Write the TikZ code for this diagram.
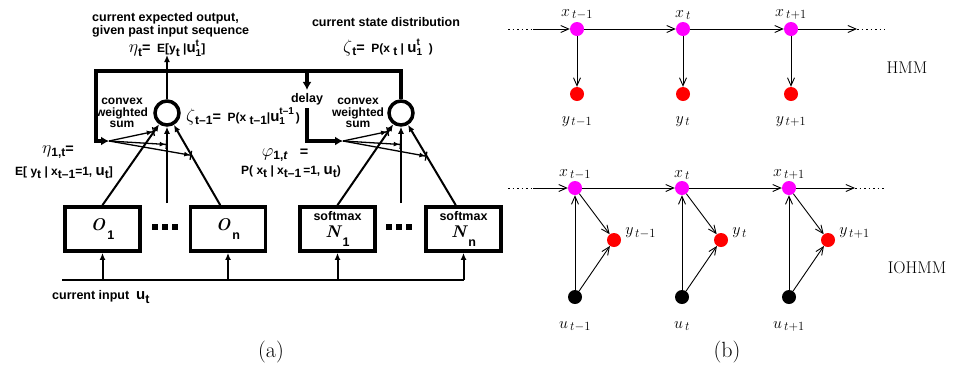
\RequirePackage{fix-cm}
\documentclass[tikz,border=0pt]{standalone}
\usepackage{amsmath}
\usepackage{fontspec}
\setsansfont{Liberation Sans}
\usepackage{tikz}
\usetikzlibrary{arrows.meta,calc,positioning}
\DeclareMathSizes{16}{16}{12.5}{10}
\definecolor{hmmmag}{RGB}{255,0,255}

\newcommand{\gk}[1]{{\fontsize{18}{18}\selectfont$#1$}}
\newcommand{\gu}{{\fontsize{15}{15}\selectfont u}}
\newcommand{\lo}[1]{\raisebox{-.5ex}{#1}}
\newcommand{\ud}[2]{\raisebox{-3pt}{\fontsize{10}{10}\selectfont\shortstack[l]{#1\\#2}}}
\newcommand{\idx}[2]{{\rmfamily\bfseries\itshape\fontsize{17}{17}\selectfont #1}\,\raisebox{-9pt}{#2}}
\newcommand{\dotrow}{\rule{6pt}{6pt}\hspace{4pt}\rule{6pt}{6pt}\hspace{4pt}\rule{6pt}{6pt}}

\begin{document}
\begin{tikzpicture}[x=1pt, y=-1pt, >={Latex[length=7pt,width=6pt]},
    box/.style={draw, line width=3.8pt, minimum width=75pt, minimum height=44pt, inner sep=0pt,
      font=\sffamily\bfseries\fontsize{12.5}{12.5}\selectfont, align=center},
    sumnode/.style={draw, circle, line width=3.5pt, minimum size=24pt, inner sep=0pt},
    fb/.style={line width=3.8pt, >={Latex[length=8pt,width=9pt]}},
    wire/.style={line width=2pt},
    gate/.style={line width=1.3pt, -{Latex[length=6pt,width=5pt] Bar[width=9pt,line width=1.3pt]}},
    lab/.style={font=\sffamily\bfseries\fontsize{12.5}{13.5}\selectfont, inner sep=0pt},
    sumlab/.style={font=\sffamily\bfseries\fontsize{12}{11.6}\selectfont, inner sep=0pt, align=center},
    eq/.style={font=\sffamily\bfseries\fontsize{12}{12}\selectfont, inner sep=0pt},
    st/.style={circle, fill=hmmmag, minimum size=14pt, inner sep=0pt},
    ob/.style={circle, fill=red, minimum size=14pt, inner sep=0pt},
    inp/.style={circle, fill=black, minimum size=14pt, inner sep=0pt},
    arr/.style={line width=0.9pt, -{Straight Barb[length=8pt,width=7pt]}},
    dotline/.style={line width=0.9pt, dash pattern=on 1.5pt off 3pt},
    mlab/.style={font=\fontsize{16}{18}\selectfont, inner sep=2pt},
    captxt/.style={font=\fontsize{22}{26}\selectfont}]
\useasboundingbox (0,0) rectangle (953,373);

% (a) mixture of experts
  \node[sumnode] (c1) at (167,113) {};
  \node[sumnode] (c2) at (401,113) {};
  \node[box] (O1) at (102.5,229) {\idx{O}{1}};
  \node (dO) at (165,227) {\dotrow};
  \node[box] (On) at (228,229) {\idx{O}{n}};
  \node[box] (N1) at (337.5,229) {softmax\\[4pt]\idx{N}{1}};
  \node (dN) at (399,227) {\dotrow};
  \node[box] (Nn) at (463.5,229) {softmax\\[4pt]\idx{N}{n}};

  \coordinate (tl) at (96,71);
  \coordinate (dtop) at (307,71);
  \coordinate (top1) at (167,55);
  \coordinate (m1) at (167,203);
  \coordinate (m2) at (401,203);
  \coordinate (f1) at (109,141);
  \coordinate (f2) at (343,141);
  \coordinate (inL) at (62,280);
  \coordinate (inR) at (463.5,280);

  \node[lab] (delay) at (307,99) {delay};

  % feedback loop
  \draw[fb,->] (c2.north) |- (tl) |- (f1);
  \draw[fb,->, shorten >=3pt] (dtop) -- (delay.north);
  \draw[fb,->, shorten <=3pt] (delay.south) |- (f2);

  \draw[wire,->] (c1.north) -- (top1);
  \draw[wire,->] (O1.north) -- (c1);
  \draw[wire,->] (m1) -- (c1);
  \draw[wire,->] (On.108) -- (c1);
  \draw[wire,->] (N1.north) -- (c2);
  \draw[wire,->] (m2) -- (c2);
  \draw[wire,->] (Nn.108) -- (c2);

  \draw[gate] (f1) -- ($(O1.north)!.8!(c1)$);
  \draw[gate] (f1) -- ($(m1)!.65!(c1)$);
  \draw[gate] (f1) -- ($(On.108)!.54!(c1)$);
  \draw[gate] (f2) -- ($(N1.north)!.8!(c2)$);
  \draw[gate] (f2) -- ($(m2)!.65!(c2)$);
  \draw[gate] (f2) -- ($(Nn.108)!.53!(c2)$);

  % input line
  \draw[wire, line width=2.4pt] (inL) -- (inR);
  \draw[wire,->] (O1 |- inL) -- (O1.south);
  \draw[wire,->] (On |- inL) -- (On.south);
  \draw[wire,->] (N1 |- inL) -- (N1.south);
  \draw[wire,->] (Nn |- inL) -- (Nn.south);

  \node[lab, align=left, anchor=north west] (outcap) at (92,12) {current expected output,\\given past input sequence};
  \node[eq] (etaT) at (167,48) {\gk{\eta}\lo{\large t}{\Large =}\; E[y\lo{t}\ |\gu\ud{t}{1}]};
  \node[lab] (stcap) at (386,22) {current state distribution};
  \node[eq] (zetaT) at (388,47) {\gk{\zeta}\lo{\large t}{\Large =}\; P(x\ \lo{t}\ |\ \gu\ud{t}{1}\ \ )};
  \node[sumlab] (sum1) at (122,113) {convex\\weighted\\sum};
  \node[sumlab] (sum2) at (358,113) {convex\\weighted\\sum};
  \node[eq] (zetaT1) at (243,116) {\gk{\zeta}\lo{t--1}{\Large =}\; P(x\ \lo{t--1}|\gu\ud{t--1}{1}\,)};
  \node[eq] (eta1) at (58,152) {\gk{\eta}\lo{1,t}{\Large =}};
  \node[eq] (eta1def) at (64,173) {E[ y\lo{t} | x\lo{t--1}=1, \gu\lo{t}]};
  \node[eq] (phi1) at (285,155) {\gk{\varphi}\lo{1,\textit{t}}\quad{\Large =}};
  \node[eq] (phi1def) at (291,172) {P( x\lo{t} | x\lo{t--1}\,=1, \gu\lo{t})};
  \node[lab, anchor=west] (inlab) at (52,297) {current input\ \ \gu\lo{t}};
  \node[captxt] (capa) at (271,352) {(a)};

% (b) HMM
  \foreach \s/\px in {a/577,b/683,c/791} {
    \node[st] (x\s) at (\px,29) {};
    \node[ob] (y\s) at (\px,94) {};
  }
  \node[mlab, above=0pt of xa] (lxa) {$x_{\,t-1}$};
  \node[mlab, above=0pt of xb] (lxb) {$x_{\,t}$};
  \node[mlab, above=0pt of xc] (lxc) {$x_{\,t+1}$};
  \node[mlab, below=13pt of ya] (lya) {$y_{\,t-1}$};
  \node[mlab, below=13pt of yb] (lyb) {$y_{\,t}$};
  \node[mlab, below=13pt of yc] (lyc) {$y_{\,t+1}$};
  \coordinate (ha0) at (508,29);
  \coordinate (ha) at (533,29);
  \coordinate (hb) at (857,29);
  \coordinate (hb0) at (885,29);
  \draw[dotline] (ha0) -- (ha);
  \draw[arr] (ha) -- (xa);
  \draw[arr] (xa) -- (xb);
  \draw[arr] (xb) -- (xc);
  \draw[arr] (xc) -- (hb);
  \draw[dotline] (hb) -- (hb0);
  \foreach \s in {a,b,c} \draw[arr] (x\s) -- (y\s);
  \node[font=\fontsize{17}{20}\selectfont] (hmm) at (907,68) {HMM};

% (b) IOHMM
  \foreach \s/\px in {d/575,e/682,f/789} {
    \node[st] (x\s) at (\px,188) {};
    \node[ob] (y\s) at (\px+39,240) {};
    \node[inp] (u\s) at (\px,297) {};
  }
  \node[mlab, above=-1pt of xd] (lxd) {$x_{\,t-1}$};
  \node[mlab, above=-1pt of xe] (lxe) {$x_{\,t}$};
  \node[mlab, above=-1pt of xf] (lxf) {$x_{\,t+1}$};
  \node[mlab, right=2pt of yd, yshift=7pt] (lyd) {$y_{\,t-1}$};
  \node[mlab, right=2pt of ye, yshift=7pt] (lye) {$y_{\,t}$};
  \node[mlab, right=2pt of yf, yshift=7pt] (lyf) {$y_{\,t+1}$};
  \node[mlab, below=15pt of ud] (lud) {$u_{\,t-1}$};
  \node[mlab, below=15pt of ue] (lue) {$u_{\,t}$};
  \node[mlab, below=15pt of uf] (luf) {$u_{\,t+1}$};
  \coordinate (ia0) at (508,188);
  \coordinate (ia) at (533,188);
  \coordinate (ib) at (855,188);
  \coordinate (ib0) at (885,188);
  \draw[dotline] (ia0) -- (ia);
  \draw[arr] (ia) -- (xd);
  \draw[arr] (xd) -- (xe);
  \draw[arr] (xe) -- (xf);
  \draw[arr] (xf) -- (ib);
  \draw[dotline] (ib) -- (ib0);
  \foreach \s in {d,e,f} {
    \draw[arr] (u\s) -- (x\s);
    \draw[arr] (u\s) -- (y\s);
    \draw[arr] (x\s) -- (y\s);
  }
  \node[font=\fontsize{17}{20}\selectfont] (iohmm) at (917,268) {IOHMM};
  \node[captxt] (capb) at (727,352) {(b)};
\end{tikzpicture}
\end{document}
